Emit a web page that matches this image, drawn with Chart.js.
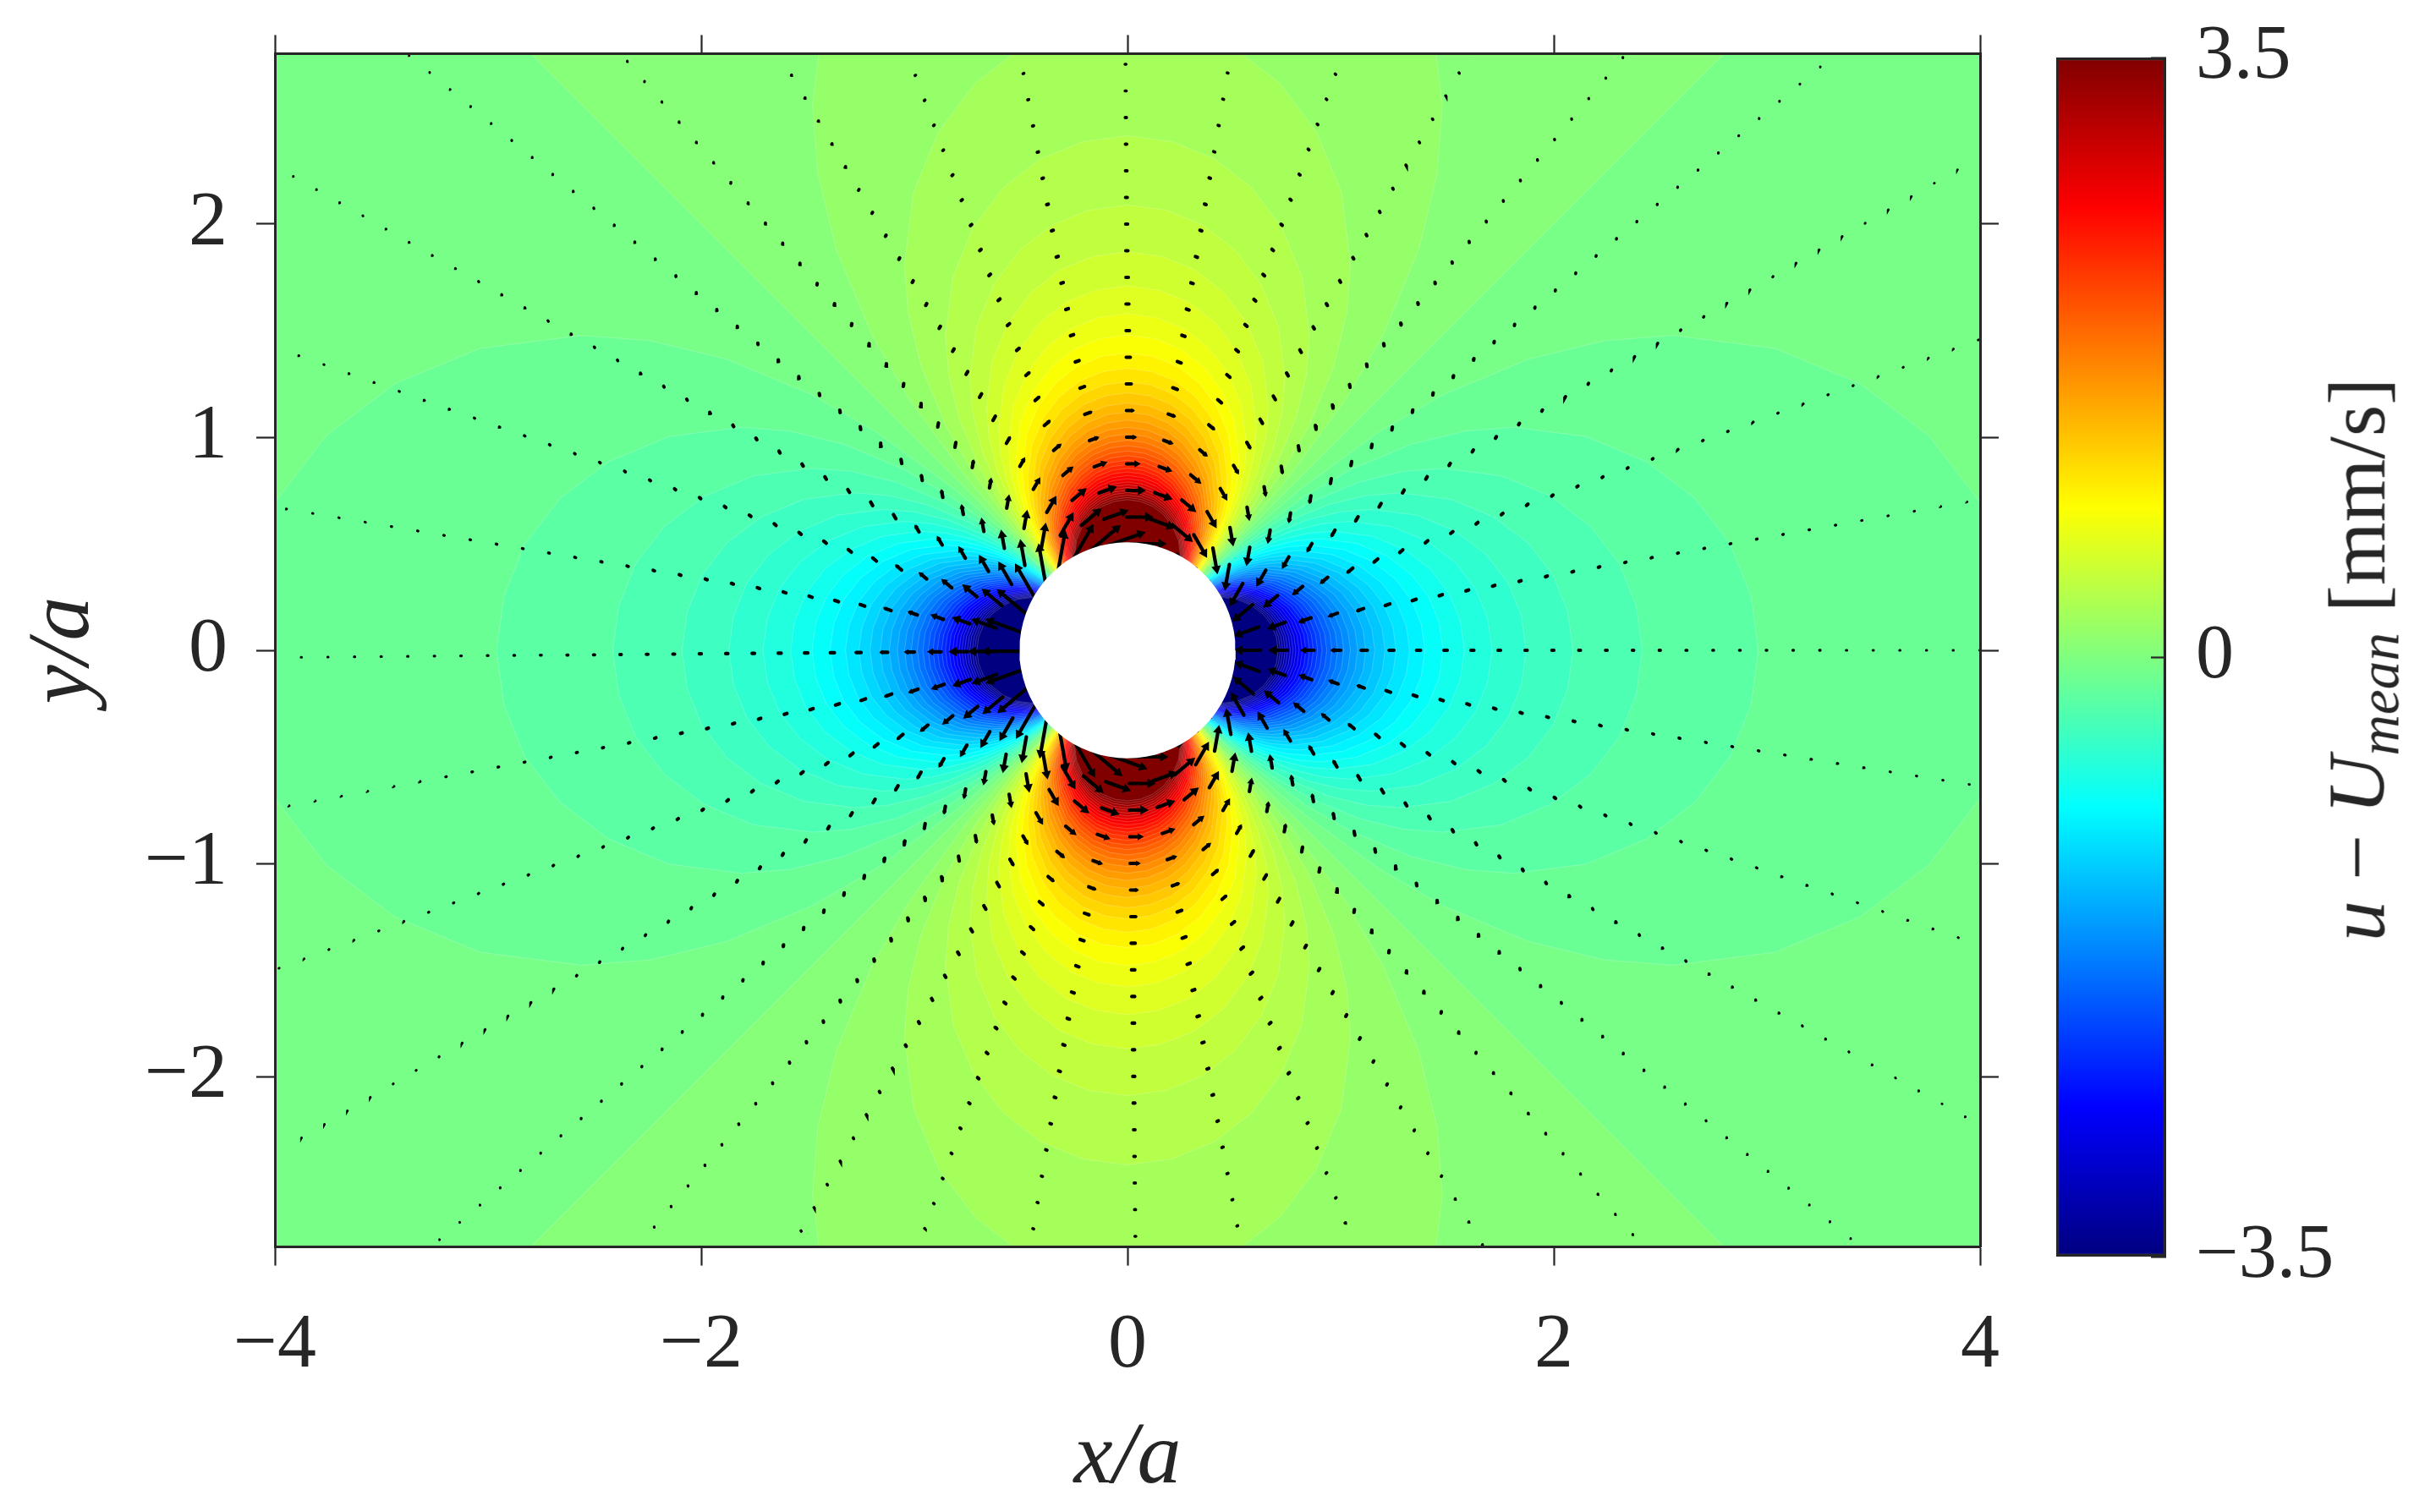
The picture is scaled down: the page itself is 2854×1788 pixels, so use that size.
<!DOCTYPE html>
<html>
<head>
<meta charset="utf-8">
<title>u - Umean around a cylinder</title>
<script src="https://cdn.jsdelivr.net/npm/chart.js@4"></script>
<style>
    html, body { margin: 0; padding: 0; background: #fff; overflow: hidden; }
    #main { position: absolute; left: 0; top: 0; }
    #bar { position: absolute; left: 2400px; top: 0; }
    #barTitle {
        position: absolute; left: 2786px; top: 780px;
        transform: translate(-50%, -50%) rotate(-90deg);
        font: 96px "Liberation Serif", serif; color: #262626; white-space: nowrap;
    }
    #barTitle sub { font-size: 0.7em; line-height: 0; vertical-align: -0.25em; }
</style>
</head>
<body>
<canvas id="main" width="2854" height="1788"></canvas>
<canvas id="bar" width="454" height="1788"></canvas>
<div id="barTitle"><i>u</i> &minus; <i>U</i><sub><i>mean</i></sub> [mm/s]</div>
<script>
const xTicks = [-4, -2, 0, 2, 4];
const yTicks = [-2, -1, 0, 1, 2];
const barTicks = [-3.5, 0, 3.5];
const barRange = [[-3.5, 3.5]];

// contour levels (|u - Umean|) and how far each lobe reaches along its axis, in x/a
const levels = [0.1, 0.2, 0.3, 0.4, 0.5, 0.6, 0.7, 0.8, 0.9, 1.0, 1.1, 1.2, 1.3, 1.4, 1.5, 1.6, 1.7, 1.8,
    1.9, 2.0, 2.1, 2.2, 2.3, 2.4, 2.5, 2.6, 2.7, 2.8, 2.9, 3.0, 3.1, 3.2, 3.3, 3.4, 3.5];
const lobeReach = [4.18, 2.96, 2.415, 2.09, 1.87, 1.71, 1.58, 1.48, 1.395, 1.323, 1.26, 1.208, 1.16, 1.118, 1.08, 1.046, 1.015, 0.986,
    0.96, 0.935, 0.913, 0.892, 0.872, 0.854, 0.837, 0.82, 0.805, 0.79, 0.777, 0.764, 0.751, 0.74, 0.728, 0.717, 0.707];

// outline of a lobe: angle off its axis (deg) and radius as a share of the reach
const lobeAngles = [0, 5, 10, 15, 20, 25, 30, 33, 36, 39, 41, 43, 44, 45];
const lobeShape = [1, 0.992, 0.97, 0.931, 0.875, 0.802, 0.707, 0.638, 0.556, 0.456, 0.373, 0.264, 0.187, 0];

// the zero contour, two straight diagonals
const zeroX = [-3, 3, -3, 3];
const zeroY = [3, 3, -3, -3];
const plotCornersX = [-4, 4, 4, -4];
const plotCornersY = [2.8, 2.8, -2.8, -2.8];

// arrows: polar grid of tails, direction of the arrow on each ray, length on each ring
const rayAngles = [0, 10.03, 20.05, 30.08, 40.11, 50.13, 60.16, 70.19, 80.21, 90.24, 100.27, 110.29, 120.32, 130.35, 140.38, 150.4, 160.43, 170.46,
    180.48, 190.51, 200.54, 210.56, 220.59, 230.62, 240.64, 250.67, 260.7, 270.72, 280.75, 290.78, 300.8, 310.83, 320.86, 330.88, 340.91, 350.94];
const rayDirections = [180, 200, 220, 240, 260, 280, 300, 320, 340, 0, 20, 40, 60, 80, 100, 120, 140, 160,
    180, 200, 220, 240, 260, 280, 300, 320, 340, 0, 20, 40, 60, 80, 100, 120, 140, 160];
const ringRadii = [0.5, 0.625, 0.75, 0.875, 1, 1.125, 1.25, 1.375, 1.5, 1.625, 1.75, 1.875, 2, 2.125, 2.25, 2.375, 2.5,
    2.625, 2.75, 2.875, 3, 3.125, 3.25, 3.375, 3.5, 3.625, 3.75, 3.875, 4, 4.125, 4.25, 4.375, 4.5];
const arrowLengths = [0.186, 0.125, 0.09, 0.066, 0.05, 0.04, 0.032, 0.027, 0.022, 0.019, 0.016, 0.014, 0.0125, 0.011, 0.01, 0.009, 0.008,
    0.0073, 0.0066, 0.006, 0.0055, 0.0051, 0.0047, 0.0044, 0.0041, 0.0038, 0.0036, 0.0033, 0.0031, 0.0029, 0.0028, 0.0026, 0.0025];

// the cylinder, a white disc
const cylinderRadius = 0.507;
const cylinderAngles = [0, 5, 10, 15, 20, 25, 30, 35, 40, 45, 50, 55, 60, 65, 70, 75, 80, 85, 90, 95, 100, 105, 110, 115, 120,
    125, 130, 135, 140, 145, 150, 155, 160, 165, 170, 175, 180, 185, 190, 195, 200, 205, 210, 215, 220, 225, 230, 235, 240,
    245, 250, 255, 260, 265, 270, 275, 280, 285, 290, 295, 300, 305, 310, 315, 320, 325, 330, 335, 340, 345, 350, 355, 360];

const jetStops = [
    [0, '#000080'], [0.125, '#0000ff'], [0.375, '#00ffff'], [0.625, '#ffff00'], [0.875, '#ff0000'], [1, '#800000']
];

const INK = '#262626';
const SERIF = '"Liberation Serif", serif';
const PX_PER_UNIT = 252;
const rad = d => d * Math.PI / 180;

function jetColor(value) {
    const t = Math.min(1, Math.max(0, (value + 3.5) / 7));
    let i = 0;
    while (i < jetStops.length - 2 && t > jetStops[i + 1][0]) i++;
    const [t0, c0] = jetStops[i];
    const [t1, c1] = jetStops[i + 1];
    const f = (t - t0) / (t1 - t0);
    const chan = (c, p) => parseInt(c.substr(p, 2), 16);
    const mix = p => Math.round(chan(c0, p) + (chan(c1, p) - chan(c0, p)) * f);
    return `rgb(${mix(1)},${mix(3)},${mix(5)})`;
}

// one lobe around a given axis angle, walked from one side to the other
function lobe(reach, axis) {
    const pts = [];
    for (let i = lobeAngles.length - 1; i > 0; i--) {
        const a = rad(axis - lobeAngles[i]);
        pts.push({ x: reach * lobeShape[i] * Math.cos(a), y: reach * lobeShape[i] * Math.sin(a) });
    }
    for (let i = 0; i < lobeAngles.length; i++) {
        const a = rad(axis + lobeAngles[i]);
        pts.push({ x: reach * lobeShape[i] * Math.cos(a), y: reach * lobeShape[i] * Math.sin(a) });
    }
    return pts;
}

function contourDataset(points, color, seam) {
    return {
        data: points,
        showLine: true,
        fill: 'shape',
        backgroundColor: color,
        borderColor: seam ? 'rgba(255,255,255,0.25)' : color,
        borderWidth: seam ? 0.8 : 0,
        pointRadius: 0,
        tension: 0
    };
}

function arrowDataset(ring) {
    const r = ringRadii[ring];
    const len = arrowLengths[ring];
    const headSize = Math.min(6.5, len * PX_PER_UNIT * 0.3);
    const neck = len - headSize / PX_PER_UNIT;
    const pts = [];
    const turns = [];
    rayAngles.forEach((angle, i) => {
        const tailX = r * Math.cos(rad(angle));
        const tailY = r * Math.sin(rad(angle));
        const dir = rad(rayDirections[i]);
        pts.push({ x: tailX, y: tailY });
        pts.push({ x: tailX + neck * Math.cos(dir), y: tailY + neck * Math.sin(dir) });
        pts.push({ x: null, y: null });
        turns.push(90 - rayDirections[i], 90 - rayDirections[i], 0);
    });
    return {
        data: pts,
        showLine: true,
        borderColor: '#000',
        backgroundColor: '#000',
        borderWidth: Math.min(4.2, 1.6 + 5.5 / r),
        borderCapStyle: 'round',
        spanGaps: false,
        pointStyle: 'triangle',
        pointBorderWidth: 0,
        pointRadius: c => (c.dataIndex % 3 === 1 ? headSize : 0),
        pointRotation: c => turns[c.dataIndex] || 0
    };
}

const datasets = [];
const corners = (xs, ys) => xs.map((x, i) => ({ x: x, y: ys[i] })).concat([{ x: xs[0], y: ys[0] }]);
datasets.push(contourDataset(corners(plotCornersX, plotCornersY), jetColor(-0.05), false));
datasets.push(contourDataset(corners(zeroX, zeroY), jetColor(0.05), true));
levels.forEach((level, i) => {
    const reach = lobeReach[i];
    const up = lobe(reach, 90).concat(lobe(reach, 270));
    const side = lobe(reach, 0).concat(lobe(reach, 180));
    datasets.push(contourDataset(up.concat(up[0]), jetColor(level + 0.05), true));
    datasets.push(contourDataset(side.concat(side[0]), jetColor(-level - 0.05), true));
});
ringRadii.forEach((r, ring) => datasets.push(arrowDataset(ring)));
const cylinderOutline = cylinderAngles.map(a => ({ x: cylinderRadius * Math.cos(rad(a)), y: cylinderRadius * Math.sin(rad(a)) }));
datasets.push(contourDataset(cylinderOutline, '#fff', false));
datasets.forEach((d, i) => { d.order = datasets.length - i; });

const fixTicks = values => scale => { scale.ticks = values.map(v => ({ value: v })); };
const label = v => (v < 0 ? '\u2212' + Math.abs(v) : String(v));
const gridOpts = { drawOnChartArea: false, tickLength: 22, tickWidth: 2.2, tickColor: INK, z: 1 };
const borderOpts = { color: INK, width: 3, z: 1 };
const hiddenLabels = { display: false };

// keep the plot box where it is in the picture, whatever the labels measure
function fixBox(width, height) {
    return s => {
        if (width) s.width = width;
        if (height) s.height = height;
        s.paddingLeft = s.paddingRight = s.paddingTop = s.paddingBottom = 0;
    };
}

new Chart(document.getElementById('main'), {
    type: 'scatter',
    data: { datasets: datasets },
    options: {
        responsive: false,
        animation: false,
        layout: { padding: 0 },
        plugins: { legend: { display: false }, tooltip: { enabled: false } },
        scales: {
            x: {
                type: 'linear', position: 'bottom', min: -4, max: 4,
                grid: gridOpts, border: borderOpts,
                afterBuildTicks: fixTicks(xTicks),
                afterFit: fixBox(0, 313.4),
                ticks: { callback: label, color: INK, font: { family: SERIF, size: 92 }, padding: 40, maxRotation: 0, autoSkip: false },
                title: { display: true, text: 'x/a', color: INK, font: { family: SERIF, size: 104, style: 'italic' }, padding: { top: 0, bottom: 0 } }
            },
            y: {
                type: 'linear', position: 'left', min: -2.8, max: 2.8,
                grid: gridOpts, border: borderOpts,
                afterBuildTicks: fixTicks(yTicks),
                afterFit: fixBox(325, 0),
                ticks: { callback: label, color: INK, font: { family: SERIF, size: 92 }, padding: 34, autoSkip: false },
                title: { display: true, text: 'y/a', color: INK, font: { family: SERIF, size: 104, style: 'italic' }, padding: { top: 14, bottom: 0 } }
            },
            xTop: {
                type: 'linear', position: 'top', min: -4, max: 4,
                grid: gridOpts, border: borderOpts,
                afterBuildTicks: fixTicks(xTicks),
                afterFit: fixBox(0, 63.4),
                ticks: hiddenLabels
            },
            yRight: {
                type: 'linear', position: 'right', min: -2.8, max: 2.8,
                grid: gridOpts, border: borderOpts,
                afterBuildTicks: fixTicks(yTicks),
                afterFit: fixBox(513, 0),
                ticks: hiddenLabels
            }
        }
    }
});

function barGradient(ctx) {
    const area = ctx.chart.chartArea;
    if (!area) return jetStops[0][1];
    const g = ctx.chart.ctx.createLinearGradient(0, area.bottom, 0, area.top);
    jetStops.forEach(s => g.addColorStop(s[0], s[1]));
    return g;
}

new Chart(document.getElementById('bar'), {
    type: 'bar',
    data: {
        labels: [''],
        datasets: [{
            data: barRange,
            backgroundColor: barGradient,
            borderColor: INK,
            borderWidth: 3.5,
            borderSkipped: false,
            categoryPercentage: 1,
            barPercentage: 1
        }]
    },
    options: {
        responsive: false,
        animation: false,
        layout: { padding: { left: 31, top: 68, bottom: 302, right: 0 } },
        plugins: { legend: { display: false }, tooltip: { enabled: false } },
        scales: {
            x: { display: false },
            y: {
                position: 'right', min: -3.5, max: 3.5,
                border: { display: false },
                grid: { drawOnChartArea: false, tickLength: -18, tickWidth: 2.2, tickColor: INK, z: 1 },
                afterBuildTicks: fixTicks(barTicks),
                afterFit: fixBox(293, 0),
                ticks: { callback: label, color: INK, font: { family: SERIF, size: 90 }, padding: 53, autoSkip: false }
            }
        }
    }
});
</script>
</body>
</html>
